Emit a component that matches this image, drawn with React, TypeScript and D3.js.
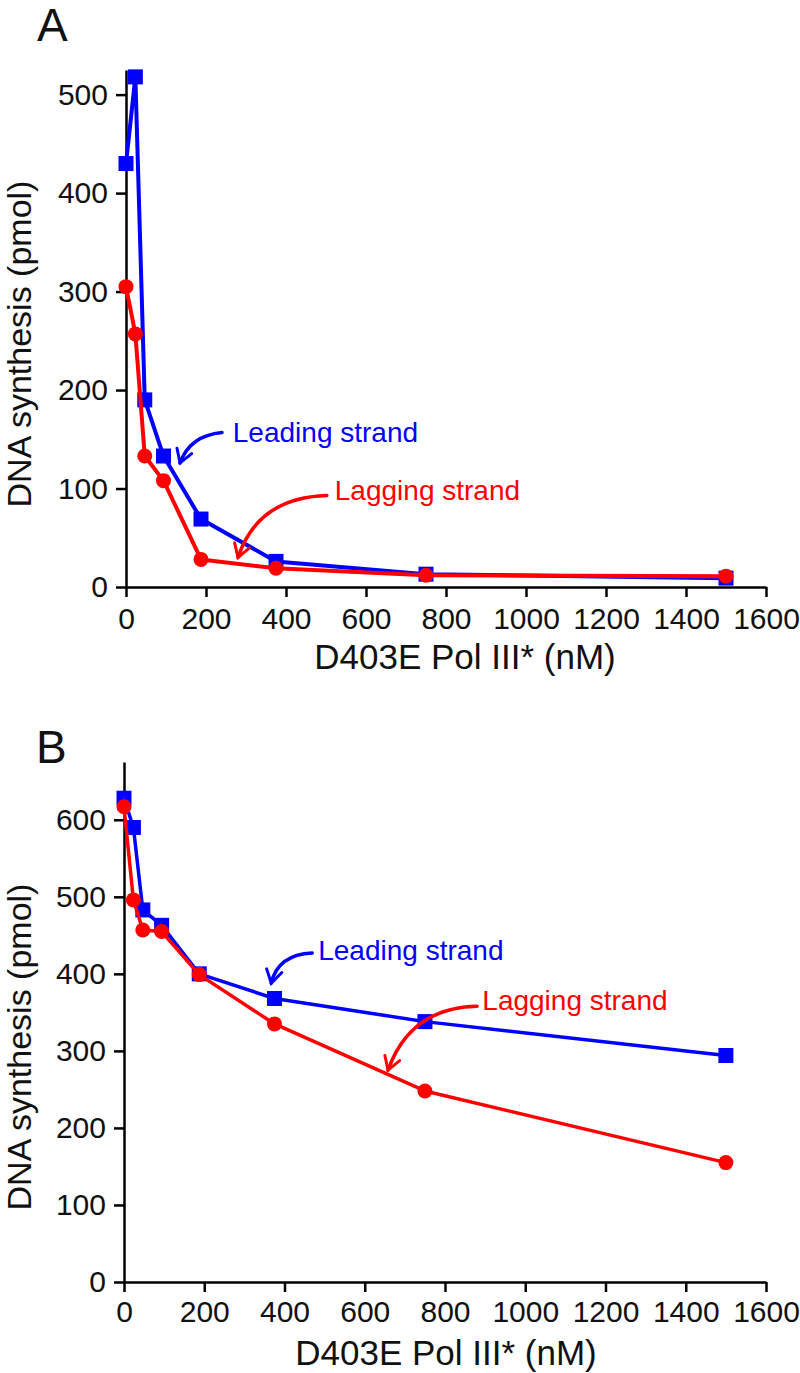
import { useEffect, useRef } from "react";
import * as d3 from "d3";

// D403E Pol III* concentrations (nM)
const concentrations = [0, 23.4, 46.9, 93.75, 187.5, 375, 750, 1500];

// panel A: DNA synthesis (pmol)
const leadingA = [430, 518, 190, 133, 69, 26, 13, 9];
const laggingA = [305, 257, 133, 108, 28, 19, 12, 11];

// panel B: DNA synthesis (pmol)
const leadingB = [628, 590, 483, 463, 400, 368, 338, 294];
const laggingB = [617, 496, 457, 455, 399, 335, 248, 155];

const xTicks = [0, 200, 400, 600, 800, 1000, 1200, 1400, 1600];
const yTicksA = [0, 100, 200, 300, 400, 500];
const yTicksB = [0, 100, 200, 300, 400, 500, 600];

const BLUE = "#0000ff";
const RED = "#ff0000";
const FONT = "'Liberation Sans', Arial, Helvetica, sans-serif";

// annotation arrows in data units: text start, curve start, control, tip
const notesA = [
  { label: "Leading strand", color: BLUE, text: [267, 147], from: [240, 157], ctrl: [160, 154], to: [135, 126] },
  { label: "Lagging strand", color: RED, text: [522, 88], from: [502, 93], ctrl: [330, 91], to: [280, 30] },
];
const notesB = [
  { label: "Leading strand", color: BLUE, text: [484, 418], from: [469, 427], ctrl: [384, 425], to: [367, 388] },
  { label: "Lagging strand", color: RED, text: [893, 353], from: [880, 358], ctrl: [713, 356], to: [658, 275] },
];

const panels = [
  {
    letter: "A", letterX: 37, letterY: 41,
    left: 126, right: 766, top: 70, bottom: 587, yMax: 525,
    yTicks: yTicksA, leading: leadingA, lagging: laggingA, notes: notesA,
    lineWidth: 4, labelPad: 11,
    xTitleX: 465, xTitleY: 669, yTitleX: 31, yTitleY: 344,
  },
  {
    letter: "B", letterX: 36, letterY: 763,
    left: 124, right: 766, top: 762, bottom: 1282, yMax: 675,
    yTicks: yTicksB, leading: leadingB, lagging: laggingB, notes: notesB,
    lineWidth: 3.5, labelPad: 9,
    xTitleX: 446, xTitleY: 1365, yTitleX: 31, yTitleY: 1047,
  },
];

export default function App() {
  const ref = useRef<SVGSVGElement>(null);

  useEffect(() => {
    const svg = d3.select(ref.current);
    svg.selectAll("*").remove();

    panels.forEach(p => {
      const x = d3.scaleLinear().domain([0, 1600]).range([p.left, p.right]);
      const y = d3.scaleLinear().domain([0, p.yMax]).range([p.bottom, p.top]);
      const g = svg.append("g");

      // axes
      const xAxis = g
        .append("g")
        .attr("transform", `translate(0,${p.bottom})`)
        .call(
          d3.axisBottom(x).tickValues(xTicks).tickFormat(d3.format("d")).tickSize(10).tickSizeOuter(0).tickPadding(p.labelPad)
        );
      const yAxis = g
        .append("g")
        .attr("transform", `translate(${p.left},0)`)
        .call(
          d3.axisLeft(y).tickValues(p.yTicks).tickFormat(d3.format("d")).tickSize(10).tickSizeOuter(0).tickPadding(8)
        );
      [xAxis, yAxis].forEach(a => {
        a.attr("font-size", 30).attr("font-family", FONT);
        a.selectAll("path, line").attr("stroke", "#000").attr("stroke-width", 2.5);
        a.selectAll("text").attr("fill", "#111");
      });

      // titles
      g.append("text")
        .attr("x", p.letterX)
        .attr("y", p.letterY)
        .attr("font-size", 46)
        .attr("font-family", FONT)
        .attr("fill", "#111")
        .text(p.letter);
      g.append("text")
        .attr("x", p.xTitleX)
        .attr("y", p.xTitleY)
        .attr("text-anchor", "middle")
        .attr("font-size", 35)
        .attr("font-family", FONT)
        .attr("fill", "#111")
        .text("D403E Pol III* (nM)");
      g.append("text")
        .attr("transform", `translate(${p.yTitleX},${p.yTitleY}) rotate(-90)`)
        .attr("text-anchor", "middle")
        .attr("font-size", 34)
        .attr("font-family", FONT)
        .attr("fill", "#111")
        .text("DNA synthesis (pmol)");

      const line = d3
        .line<number>()
        .x((_, i) => x(concentrations[i]))
        .y(d => y(d));

      // leading strand (blue squares)
      g.append("path")
        .attr("d", line(p.leading))
        .attr("fill", "none")
        .attr("stroke", BLUE)
        .attr("stroke-width", p.lineWidth)
        .attr("stroke-linejoin", "round");
      g.selectAll(".sq")
        .data(p.leading)
        .enter()
        .append("rect")
        .attr("x", (_, i) => x(concentrations[i]) - 7.5)
        .attr("y", d => y(d) - 7.5)
        .attr("width", 15)
        .attr("height", 15)
        .attr("fill", BLUE);

      // lagging strand (red circles)
      g.append("path")
        .attr("d", line(p.lagging))
        .attr("fill", "none")
        .attr("stroke", RED)
        .attr("stroke-width", p.lineWidth)
        .attr("stroke-linejoin", "round");
      g.selectAll(".ci")
        .data(p.lagging)
        .enter()
        .append("circle")
        .attr("cx", (_, i) => x(concentrations[i]))
        .attr("cy", d => y(d))
        .attr("r", 7.5)
        .attr("fill", RED);

      // annotations
      p.notes.forEach(n => {
        const [sx, sy] = [x(n.from[0]), y(n.from[1])];
        const [cx, cy] = [x(n.ctrl[0]), y(n.ctrl[1])];
        const [tx, ty] = [x(n.to[0]), y(n.to[1])];
        const ang = Math.atan2(ty - cy, tx - cx);
        const L = 15;
        const a1 = ang + Math.PI - 0.55;
        const a2 = ang + Math.PI + 0.55;
        g.append("path")
          .attr("d", `M${sx},${sy}Q${cx},${cy} ${tx},${ty}`)
          .attr("fill", "none")
          .attr("stroke", n.color)
          .attr("stroke-width", 3.5)
          .attr("stroke-linecap", "round");
        g.append("path")
          .attr(
            "d",
            `M${tx + L * Math.cos(a1)},${ty + L * Math.sin(a1)}L${tx},${ty}L${tx + L * Math.cos(a2)},${ty + L * Math.sin(a2)}`
          )
          .attr("fill", "none")
          .attr("stroke", n.color)
          .attr("stroke-width", 3)
          .attr("stroke-linecap", "round")
          .attr("stroke-linejoin", "miter");
        g.append("text")
          .attr("x", x(n.text[0]))
          .attr("y", y(n.text[1]))
          .attr("font-size", 28)
          .attr("font-family", FONT)
          .attr("fill", n.color)
          .text(n.label);
      });
    });
  }, []);

  return (
    <svg
      ref={ref}
      width={800}
      height={1373}
      style={{ position: "absolute", left: 0, top: 0, background: "#fff" }}
    />
  );
}
